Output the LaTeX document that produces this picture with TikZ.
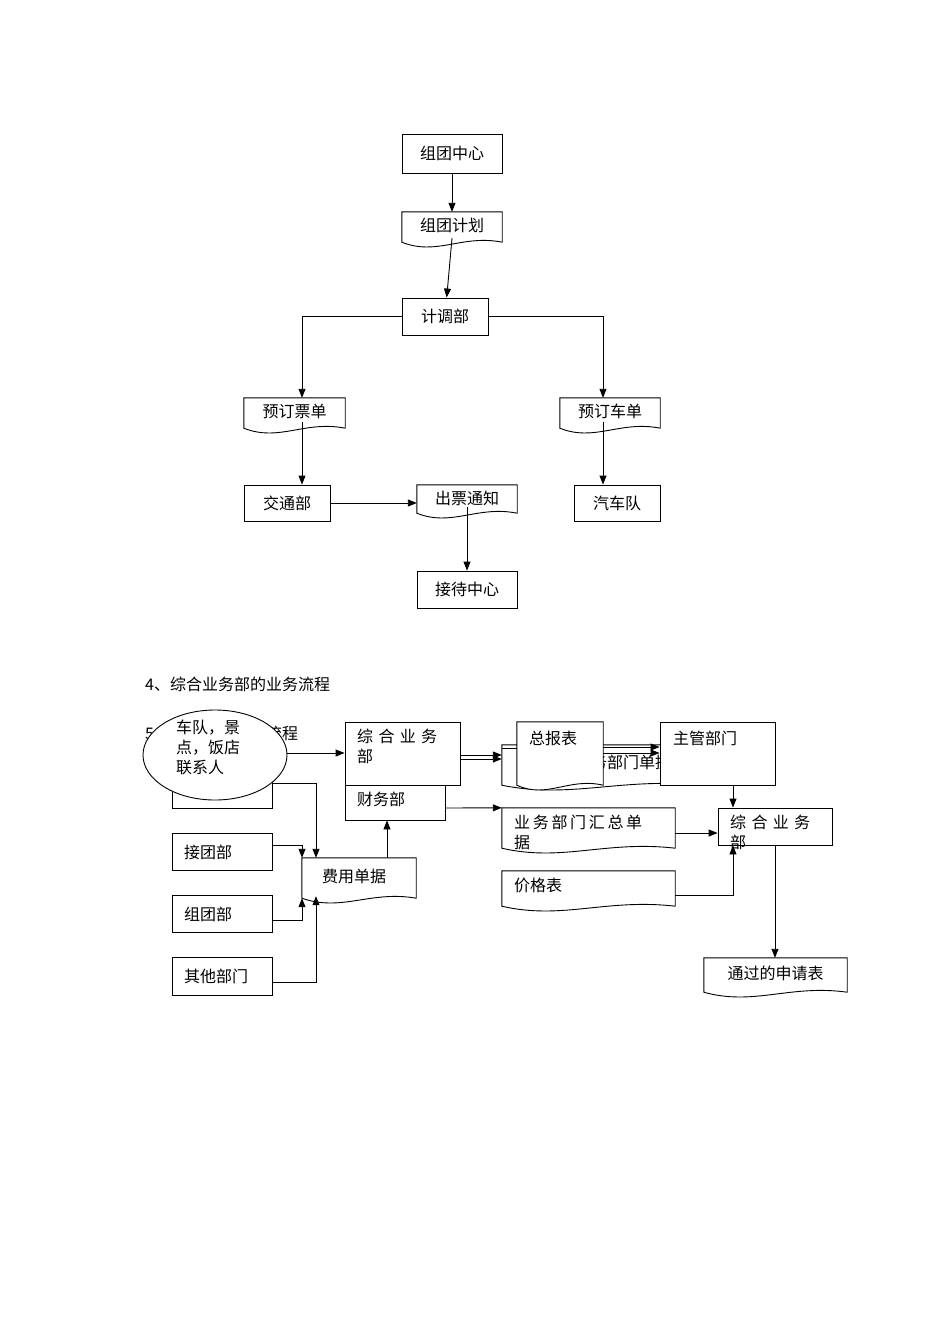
\documentclass[tikz,border=0pt]{standalone}
\usepackage{fontspec}
\newfontfamily\cjk{Noto Sans CJK SC}
\usetikzlibrary{arrows.meta,shapes.geometric,fit,calc}
\tikzset{
  t/.style={font=\cjk\fontsize{16}{20}\selectfont,inner sep=0pt},
  tl/.style={t,anchor=north west,align=left},
  arr/.style={-{Triangle[length=9pt,width=7pt]},line width=0.9pt},
  ln/.style={line width=0.9pt},
}
\newcommand{\bx}[5]{%
  \path (#2,#3) coordinate (#1nw) (#4,#5) coordinate (#1se);
  \node[draw,line width=0.9pt,fill=white,inner sep=0pt,fit={(#1nw)(#1se)}] (#1) {};}
\newcommand{\dc}[5]{%
  \path (#2,#3) coordinate (#1nw) (#4,#5) coordinate (#1se);
  \node[inner sep=0pt,fit={(#1nw)(#1se)}] (#1) {};
  \filldraw[fill=white,line width=0.9pt] (#1.north west) -- (#1.north east) -- (#1.south east)
    .. controls ($(#1.south west)!0.6!(#1.south east)+(0,8pt)$) and ($(#1.south west)!0.35!(#1.south east)+(0,-14pt)$) .. (#1.south west) -- cycle;}
\begin{document}
\begin{tikzpicture}[x=1pt,y=-1pt]
\useasboundingbox (0,0) rectangle (950,1344);
% ---- upper chart
\bx{a}{402}{134}{502}{173} \node[t] at (a) {组团中心};
\dc{b}{402}{212}{502}{242} \node[t] at ($(b)+(0,-2)$) {组团计划};
\bx{c}{402}{298}{488}{335} \node[t] at (c) {计调部};
\dc{d}{244}{398}{345}{428} \node[t] at ($(d)+(0,-2)$) {预订票单};
\dc{e}{560}{398}{660}{428} \node[t] at ($(e)+(0,-2)$) {预订车单};
\bx{f}{244}{485}{330}{521} \node[t] at (f) {交通部};
\dc{g}{417}{485}{517}{513} \node[t] at ($(g)+(0,-1)$) {出票通知};
\bx{h}{574}{485}{660}{521} \node[t] at (h) {汽车队};
\bx{i}{417}{571}{517}{608} \node[t] at (i) {接待中心};
\draw[arr] (a) -- (b);
\draw[arr] ($(b.south)+(0,-4)$) -- (c);
\draw[arr] (c.west) -| (d.north -| 302,0);
\draw[arr] (c.east) -| (e.north -| 603,0);
\draw[arr] ($(d.south -| 302,0)+(0,-6)$) -- (f.north -| 302,0);
\draw[arr] (f.east) -- (g.west |- f.east);
\draw[arr] ($(g.south)+(0,-6)$) -- (i);
\draw[arr] ($(e.south -| 603,0)+(0,-6)$) -- (h.north -| 603,0);
% ---- section titles
\node[t,anchor=west] (s4) at (145,684) {4、综合业务部的业务流程};
\node[t,anchor=west] (s5) at (145,733) {5、财务部的业务流程};
% ---- lower chart
\bx{k}{172}{772}{272}{808}
\node[draw,line width=0.9pt,fill=white,ellipse,minimum width=144,minimum height=90] (el) at (215,755) {};
\node[tl] at (176,720) {车队，景\\点，饭店\\联系人};
\dc{q}{502}{745}{700}{785} \node[tl] at (575,755) {业务部门单据};
\bx{m}{345}{722}{460}{785} \node[tl] at (357,729) {综\,\,合\,\,业\,\,务\\部};
\bx{n}{345}{785}{445}{820} \node[tl] at (357,792) {财务部};
\dc{p}{517}{722}{603}{785} \node[tl] at (529,731) {总报表};
\bx{r}{660}{722}{775}{785} \node[tl] at (673,731) {主管部门};
\bx{j}{172}{833}{272}{870} \node[t,anchor=west] at (184,852) {接团部};
\dc{u}{302}{858}{416}{898} \node[t] at ($(u)+(-5,-2)$) {费用单据};
\bx{v}{172}{895}{272}{932} \node[t,anchor=west] at (184,914) {组团部};
\bx{w}{172}{957}{272}{995} \node[t,anchor=west] at (184,976) {其他部门};
\dc{x}{502}{808}{675}{848} \node[tl] at (514,815) {业\,务\,部\,门\,汇\,总\,单\\据};
\dc{y}{502}{871}{675}{906} \node[tl] at (514,878) {价格表};
\bx{z}{718}{808}{832}{845} \node[tl] at (730,815) {综\,\,合\,\,业\,\,务\\部};
\dc{o}{704}{958}{847}{992} \node[t] at ($(o)+(0,-2)$) {通过的申请表};
\draw[arr] (el.east |- 0,753) -- (m.west |- 0,753);
\draw[arr] (k.east |- 0,783) -| (u.north -| 316,0);
\draw[arr] (j.east |- 0,845) -| (u.north -| 302,0);
\draw[arr] (v.east |- 0,920) -| (u.south -| 302,0);
\draw[arr] (w.east |- 0,982) -| ($(u.south -| 316,0)+(0,-2)$);
\draw[arr] (u.north -| 387,0) -- (n.south -| 387,0);
\draw[arr] (n.east |- 0,808) -- (x.north west);
\draw[arr] (m.east |- 0,755) -- (q.west |- 0,755);
\draw[arr] (m.east |- 0,759) -- (q.west |- 0,759);
\draw[ln] (q.west |- 0,748) -- (p.west |- 0,748);
\draw[arr] (p.east |- 0,747) -- (r.west |- 0,747);
\draw[arr] (p.east |- 0,753) -- (r.west |- 0,753);
\draw[arr] (r.south -| 733,0) -- (z.north -| 733,0);
\draw[arr] (x.east |- 0,833) -- (z.west |- 0,833);
\draw[arr] (y.east |- 0,895) -| (z.south -| 733,0);
\draw[arr] (z.south -| 775,0) -- (o.north -| 775,0);
\end{tikzpicture}
\end{document}
